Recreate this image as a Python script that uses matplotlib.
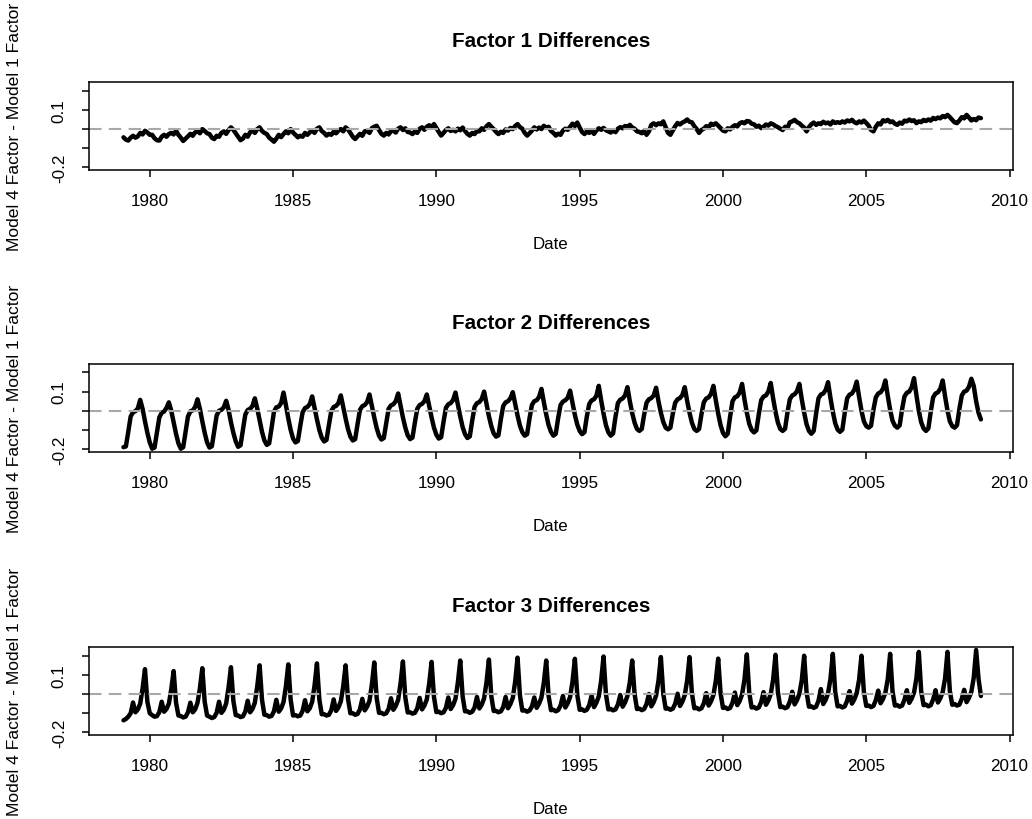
import numpy as np
import matplotlib
matplotlib.use('Agg')
import matplotlib.pyplot as plt

plt.rcParams['font.family'] = ['Liberation Sans', 'DejaVu Sans']

# Model 4 factor minus Model 1 factor, one row per year (12 monthly values)
years = list(range(1979, 2009))

factor1_diff = [
    [-0.043, -0.055, -0.060, -0.045, -0.035, -0.045, -0.038, -0.020, -0.028, -0.009, -0.018, -0.030],
    [-0.030, -0.048, -0.058, -0.060, -0.040, -0.030, -0.040, -0.026, -0.020, -0.028, -0.009, -0.030],
    [-0.045, -0.062, -0.050, -0.038, -0.025, -0.035, -0.017, -0.012, -0.022, 0.000, -0.010, -0.022],
    [-0.026, -0.045, -0.052, -0.035, -0.040, -0.020, -0.012, -0.025, -0.005, 0.009, -0.004, -0.022],
    [-0.040, -0.058, -0.050, -0.030, -0.040, -0.017, -0.008, -0.020, 0.000, 0.009, -0.010, -0.020],
    [-0.026, -0.045, -0.055, -0.066, -0.050, -0.030, -0.042, -0.026, -0.012, -0.022, 0.000, -0.018],
    [-0.030, -0.043, -0.035, -0.040, -0.020, -0.030, -0.017, -0.008, -0.020, 0.002, 0.009, -0.010],
    [-0.020, -0.034, -0.025, -0.030, -0.014, -0.022, -0.008, 0.000, -0.012, 0.009, -0.002, -0.020],
    [-0.040, -0.052, -0.038, -0.025, -0.035, -0.012, -0.009, -0.020, 0.005, 0.012, 0.017, -0.005],
    [-0.025, -0.034, -0.020, -0.028, -0.010, -0.009, -0.018, 0.002, 0.009, -0.005, 0.004, -0.015],
    [-0.018, -0.026, -0.012, -0.020, 0.002, 0.009, -0.004, 0.012, 0.020, 0.010, 0.026, 0.005],
    [-0.015, -0.034, -0.020, -0.005, 0.004, -0.010, -0.004, -0.012, 0.002, -0.006, 0.008, -0.010],
    [-0.025, -0.034, -0.020, -0.026, -0.009, -0.012, 0.004, -0.004, 0.015, 0.026, 0.012, 0.000],
    [-0.015, -0.026, -0.014, -0.020, -0.002, -0.008, 0.006, 0.000, 0.016, 0.026, 0.010, 0.002],
    [-0.020, -0.034, -0.022, -0.008, 0.009, -0.002, 0.008, 0.000, 0.017, 0.006, 0.012, -0.010],
    [-0.020, -0.034, -0.024, -0.030, -0.008, 0.002, -0.004, 0.012, 0.028, 0.016, 0.034, 0.008],
    [-0.015, -0.026, -0.012, -0.020, -0.010, -0.025, -0.008, 0.004, -0.004, 0.006, -0.006, -0.012],
    [-0.018, -0.008, -0.016, 0.002, 0.010, 0.004, 0.016, 0.010, 0.022, 0.008, 0.002, -0.012],
    [-0.015, -0.022, -0.010, -0.030, -0.012, 0.022, 0.030, 0.020, 0.030, 0.025, 0.040, 0.010],
    [-0.020, -0.030, -0.008, 0.015, 0.032, 0.024, 0.034, 0.040, 0.050, 0.038, 0.035, 0.015],
    [0.000, -0.020, -0.005, 0.002, 0.015, 0.008, 0.028, 0.022, 0.030, 0.018, 0.005, -0.008],
    [-0.012, 0.004, -0.002, 0.012, 0.020, 0.014, 0.030, 0.036, 0.030, 0.042, 0.040, 0.028],
    [0.025, 0.012, 0.018, 0.005, 0.012, 0.024, 0.018, 0.030, 0.025, 0.016, 0.010, 0.002],
    [-0.005, 0.012, 0.006, 0.035, 0.040, 0.048, 0.036, 0.030, 0.018, 0.008, -0.012, 0.010],
    [0.025, 0.034, 0.022, 0.030, 0.026, 0.038, 0.030, 0.034, 0.024, 0.040, 0.032, 0.036],
    [0.032, 0.040, 0.034, 0.045, 0.040, 0.048, 0.036, 0.030, 0.040, 0.034, 0.044, 0.032],
    [0.018, -0.005, -0.012, 0.012, 0.030, 0.024, 0.046, 0.040, 0.048, 0.036, 0.040, 0.028],
    [0.022, 0.034, 0.028, 0.044, 0.040, 0.050, 0.042, 0.046, 0.031, 0.040, 0.036, 0.048],
    [0.042, 0.050, 0.044, 0.058, 0.052, 0.060, 0.056, 0.068, 0.062, 0.074, 0.062, 0.048],
    [0.035, 0.031, 0.045, 0.062, 0.056, 0.074, 0.060, 0.045, 0.052, 0.046, 0.060, 0.057],
]

factor2_diff = [
    [-0.190, -0.186, -0.110, -0.030, -0.008, -0.002, 0.012, 0.057, 0.010, -0.055, -0.115, -0.165],
    [-0.198, -0.192, -0.115, -0.035, -0.010, -0.004, 0.015, 0.044, 0.000, -0.060, -0.120, -0.170],
    [-0.198, -0.190, -0.110, -0.030, -0.003, 0.002, 0.020, 0.060, 0.010, -0.055, -0.115, -0.165],
    [-0.192, -0.185, -0.105, -0.025, 0.000, 0.005, 0.018, 0.052, 0.005, -0.060, -0.115, -0.160],
    [-0.188, -0.180, -0.100, -0.020, 0.004, 0.010, 0.025, 0.065, 0.012, -0.050, -0.110, -0.155],
    [-0.178, -0.170, -0.090, -0.005, 0.018, 0.022, 0.040, 0.095, 0.030, -0.040, -0.100, -0.145],
    [-0.165, -0.158, -0.080, -0.008, 0.014, 0.020, 0.035, 0.075, 0.015, -0.045, -0.100, -0.140],
    [-0.160, -0.152, -0.075, -0.002, 0.020, 0.025, 0.040, 0.080, 0.020, -0.040, -0.095, -0.135],
    [-0.155, -0.148, -0.070, 0.004, 0.024, 0.030, 0.045, 0.085, 0.025, -0.035, -0.090, -0.130],
    [-0.150, -0.142, -0.065, 0.010, 0.028, 0.034, 0.050, 0.090, 0.028, -0.035, -0.088, -0.128],
    [-0.148, -0.140, -0.062, 0.010, 0.030, 0.036, 0.050, 0.085, 0.025, -0.035, -0.088, -0.125],
    [-0.145, -0.138, -0.058, 0.015, 0.034, 0.040, 0.056, 0.095, 0.032, -0.030, -0.085, -0.122],
    [-0.142, -0.134, -0.052, 0.020, 0.040, 0.045, 0.062, 0.100, 0.035, -0.028, -0.080, -0.118],
    [-0.135, -0.128, -0.045, 0.025, 0.044, 0.050, 0.065, 0.097, 0.035, -0.025, -0.078, -0.112],
    [-0.130, -0.122, -0.040, 0.030, 0.050, 0.055, 0.072, 0.114, 0.045, -0.020, -0.075, -0.110],
    [-0.130, -0.120, -0.038, 0.030, 0.048, 0.055, 0.068, 0.105, 0.040, -0.022, -0.072, -0.105],
    [-0.122, -0.112, -0.030, 0.035, 0.054, 0.060, 0.078, 0.130, 0.055, -0.015, -0.075, -0.112],
    [-0.130, -0.118, -0.032, 0.040, 0.058, 0.064, 0.080, 0.123, 0.050, -0.012, -0.062, -0.095],
    [-0.105, -0.095, -0.020, 0.042, 0.060, 0.066, 0.080, 0.120, 0.050, -0.010, -0.058, -0.088],
    [-0.097, -0.088, -0.015, 0.042, 0.060, 0.066, 0.082, 0.123, 0.052, -0.010, -0.062, -0.095],
    [-0.105, -0.095, -0.018, 0.045, 0.064, 0.070, 0.088, 0.130, 0.055, -0.015, -0.075, -0.115],
    [-0.133, -0.120, -0.030, 0.050, 0.070, 0.076, 0.095, 0.140, 0.060, -0.010, -0.068, -0.100],
    [-0.113, -0.102, -0.018, 0.055, 0.074, 0.080, 0.100, 0.145, 0.065, -0.005, -0.062, -0.095],
    [-0.105, -0.094, -0.010, 0.060, 0.080, 0.086, 0.102, 0.140, 0.060, -0.010, -0.070, -0.105],
    [-0.120, -0.105, -0.015, 0.065, 0.085, 0.090, 0.108, 0.149, 0.068, -0.005, -0.065, -0.098],
    [-0.110, -0.098, -0.010, 0.065, 0.084, 0.090, 0.110, 0.152, 0.072, 0.000, -0.055, -0.080],
    [-0.088, -0.078, 0.005, 0.070, 0.090, 0.096, 0.115, 0.158, 0.078, 0.005, -0.052, -0.078],
    [-0.088, -0.076, 0.008, 0.075, 0.094, 0.100, 0.122, 0.170, 0.082, 0.000, -0.060, -0.092],
    [-0.105, -0.092, -0.005, 0.070, 0.090, 0.096, 0.115, 0.158, 0.075, 0.002, -0.055, -0.080],
    [-0.088, -0.075, 0.010, 0.080, 0.100, 0.105, 0.125, 0.167, 0.130, 0.050, -0.010, -0.045],
]

factor3_diff = [
    [-0.137, -0.130, -0.118, -0.100, -0.044, -0.095, -0.080, -0.050, 0.030, 0.130, -0.040, -0.100],
    [-0.110, -0.118, -0.115, -0.095, -0.040, -0.092, -0.078, -0.050, 0.025, 0.120, -0.045, -0.112],
    [-0.115, -0.122, -0.118, -0.095, -0.045, -0.095, -0.080, -0.045, 0.030, 0.135, -0.040, -0.112],
    [-0.118, -0.125, -0.120, -0.098, -0.040, -0.098, -0.082, -0.048, 0.035, 0.140, -0.035, -0.110],
    [-0.112, -0.120, -0.116, -0.092, -0.035, -0.095, -0.078, -0.045, 0.040, 0.150, -0.030, -0.108],
    [-0.110, -0.118, -0.114, -0.090, -0.030, -0.092, -0.075, -0.042, 0.040, 0.155, -0.030, -0.112],
    [-0.110, -0.116, -0.112, -0.088, -0.032, -0.090, -0.074, -0.040, 0.045, 0.160, -0.028, -0.105],
    [-0.105, -0.112, -0.108, -0.085, -0.028, -0.088, -0.070, -0.038, 0.040, 0.150, -0.025, -0.100],
    [-0.100, -0.108, -0.104, -0.080, -0.025, -0.085, -0.066, -0.035, 0.050, 0.165, -0.020, -0.098],
    [-0.098, -0.105, -0.100, -0.078, -0.022, -0.082, -0.062, -0.030, 0.055, 0.170, -0.018, -0.096],
    [-0.095, -0.102, -0.098, -0.075, -0.020, -0.080, -0.060, -0.028, 0.055, 0.168, -0.015, -0.094],
    [-0.092, -0.100, -0.095, -0.072, -0.018, -0.078, -0.058, -0.025, 0.060, 0.175, -0.012, -0.090],
    [-0.090, -0.098, -0.092, -0.070, -0.015, -0.075, -0.055, -0.022, 0.062, 0.180, -0.010, -0.088],
    [-0.088, -0.095, -0.090, -0.068, -0.015, -0.074, -0.052, -0.020, 0.065, 0.190, -0.008, -0.086],
    [-0.085, -0.092, -0.086, -0.065, -0.018, -0.072, -0.050, -0.018, 0.060, 0.175, -0.010, -0.084],
    [-0.082, -0.090, -0.084, -0.060, -0.010, -0.070, -0.048, -0.015, 0.065, 0.184, -0.005, -0.082],
    [-0.080, -0.088, -0.082, -0.058, -0.008, -0.068, -0.045, -0.012, 0.070, 0.196, 0.000, -0.080],
    [-0.078, -0.085, -0.080, -0.055, -0.005, -0.066, -0.044, -0.010, 0.062, 0.175, 0.000, -0.078],
    [-0.076, -0.084, -0.078, -0.052, 0.000, -0.064, -0.042, -0.008, 0.070, 0.193, 0.002, -0.076],
    [-0.075, -0.082, -0.076, -0.050, 0.002, -0.062, -0.040, -0.006, 0.070, 0.193, 0.004, -0.074],
    [-0.072, -0.080, -0.074, -0.048, 0.005, -0.060, -0.038, -0.005, 0.068, 0.185, 0.005, -0.072],
    [-0.070, -0.078, -0.072, -0.045, 0.008, -0.058, -0.036, -0.002, 0.075, 0.207, 0.008, -0.070],
    [-0.068, -0.076, -0.070, -0.042, 0.010, -0.056, -0.034, 0.000, 0.075, 0.205, 0.010, -0.068],
    [-0.066, -0.074, -0.068, -0.040, 0.012, -0.054, -0.032, 0.002, 0.072, 0.200, 0.010, -0.066],
    [-0.064, -0.072, -0.066, -0.035, 0.026, -0.052, -0.030, 0.004, 0.078, 0.210, 0.012, -0.064],
    [-0.062, -0.070, -0.064, -0.035, 0.015, -0.050, -0.028, 0.005, 0.075, 0.200, 0.012, -0.062],
    [-0.060, -0.068, -0.062, -0.032, 0.018, -0.048, -0.026, 0.006, 0.078, 0.210, 0.014, -0.060],
    [-0.058, -0.066, -0.060, -0.030, 0.020, -0.046, -0.024, 0.008, 0.082, 0.220, 0.015, -0.058],
    [-0.055, -0.064, -0.058, -0.028, 0.020, -0.044, -0.022, 0.010, 0.082, 0.220, 0.016, -0.056],
    [-0.052, -0.060, -0.055, -0.025, 0.022, -0.042, -0.020, 0.012, 0.085, 0.230, 0.080, -0.010],
]

titles = ['Factor 1 Differences', 'Factor 2 Differences', 'Factor 3 Differences']
x_ticks = [1980, 1985, 1990, 1995, 2000, 2005, 2010]
y_ticks = [-0.2, -0.1, 0.0, 0.1, 0.2]
y_tick_labels = ['-0.2', '', '', '0.1', '']

# decimal dates, one per month
dates = years[0] + np.arange(1, 12 * len(years) + 1) / 12.0

W, H = 1032, 820
fig = plt.figure(figsize=(W / 100, H / 100), dpi=100)

box_left, box_width, box_height = 89, 924, 87.5
box_tops = [83.3, 365.0, 648.3]

for top, title, diff in zip(box_tops, titles, [factor1_diff, factor2_diff, factor3_diff]):
    ax = fig.add_axes([box_left / W, 1 - (top + box_height) / H, box_width / W, box_height / H])
    ax.plot(dates, np.ravel(diff), color='black', lw=3.2,
            solid_joinstyle='round', solid_capstyle='round')
    ax.axhline(0, color='#a8a8a8', lw=1.5, linestyle=(0, (6, 3.5)))

    ax.set_xlim(1977.88, 2010.12)
    ax.set_ylim(-0.2125, 0.244)
    ax.set_xticks(x_ticks)
    ax.set_xticklabels([str(x) for x in x_ticks], fontsize=12.3)
    ax.set_yticks(y_ticks)
    ax.set_yticklabels(y_tick_labels, fontsize=12.3, rotation=90, va='center')
    ax.tick_params(direction='out', length=5, width=1.1)
    ax.tick_params(axis='x', pad=12)
    ax.tick_params(axis='y', pad=11)

    for side in ax.spines.values():
        side.set_linewidth(1.1)

    ax.text(0.5, 1 + 41.5 / box_height, title, transform=ax.transAxes,
            ha='center', va='center', fontsize=14.9, fontweight='bold')
    ax.text(0.5, -74 / box_height, 'Date', transform=ax.transAxes,
            ha='center', va='center', fontsize=12.2)

    # y label sits near the left edge of the figure, centred on the panel
    fig.text(15 / W, 1 - (top + box_height / 2) / H, 'Model 4 Factor - Model 1 Factor',
             rotation=90, ha='center', va='center', fontsize=12.6)

fig.savefig('out.png', dpi=100)
